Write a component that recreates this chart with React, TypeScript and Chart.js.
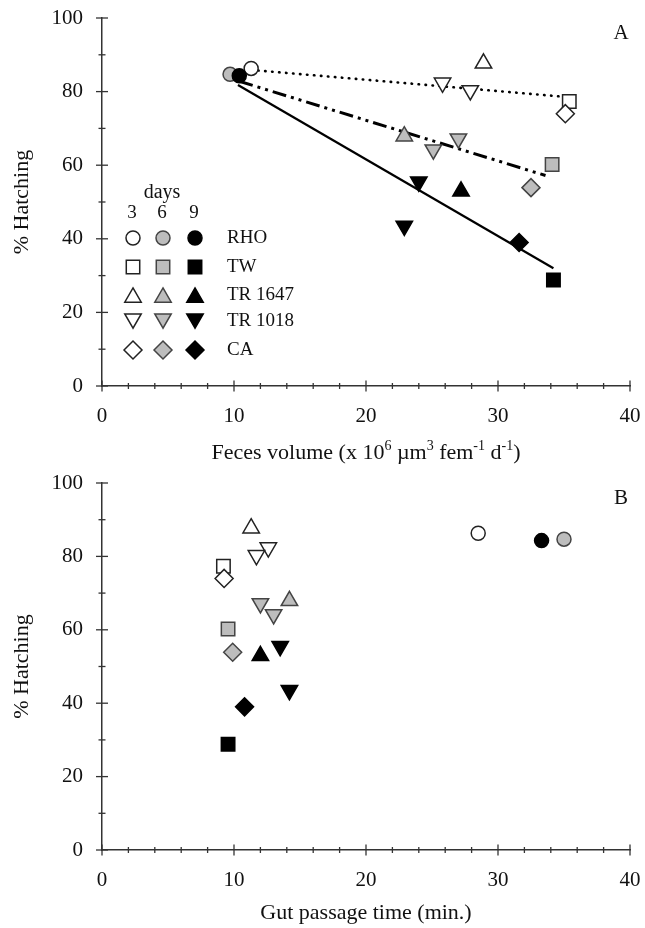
import React, { useEffect, useRef } from 'react';
import { Chart, registerables } from 'chart.js';
import { drawPoint } from 'chart.js/helpers';

Chart.register(...registerables);

// ---------------- data ----------------
const STRAINS = ['RHO', 'TW', 'TR 1647', 'TR 1018', 'TR 1018', 'CA'];
const LEGEND_STRAINS = ['RHO', 'TW', 'TR 1647', 'TR 1018', 'CA'];
const DAYS = ['3', '6', '9'];

// % hatching (same values in both panels)
const HATCH_DAY3 = [86.3, 77.3, 87.7, 82.4, 80.3, 74.0];
const HATCH_DAY6 = [84.7, 60.2, 67.9, 64.2, 67.2, 53.9];
const HATCH_DAY9 = [84.3, 28.8, 52.9, 55.5, 43.5, 39.0];

// panel A x: feces volume (x 10^6 µm^3 fem^-1 d^-1)
const FECES_DAY3 = [11.3, 35.4, 28.9, 25.8, 27.9, 35.1];
const FECES_DAY6 = [9.7, 34.1, 22.9, 25.1, 27.0, 32.5];
const FECES_DAY9 = [10.4, 34.2, 27.2, 24.0, 22.9, 31.6];

// panel B x: gut passage time (min.)
const GUT_DAY3 = [28.5, 9.2, 11.3, 12.6, 11.7, 9.25];
const GUT_DAY6 = [35.0, 9.55, 14.2, 13.0, 12.0, 9.9];
const GUT_DAY9 = [33.3, 9.55, 12.0, 13.5, 14.2, 10.8];

// regression lines in panel A (end points)
const FIT_DAY3_X = [11.3, 35.0];
const FIT_DAY3_Y = [85.9, 78.6];
const FIT_DAY6_X = [10.4, 33.6];
const FIT_DAY6_Y = [82.8, 57.2];
const FIT_DAY9_X = [10.3, 34.2];
const FIT_DAY9_Y = [81.8, 32.0];

const X_MIN = 0, X_MAX = 40, X_STEP = 10, X_MINOR = 2;
const Y_MIN = 0, Y_MAX = 100, Y_STEP = 20, Y_MINOR = 10;

const Y_TITLE = '% Hatching';
const X_TITLE_A: [string, boolean][] = [
  ['Feces volume (x 10', false], ['6', true], [' µm', false], ['3', true],
  [' fem', false], ['-1', true], [' d', false], ['-1', true], [')', false],
];
const X_TITLE_B: [string, boolean][] = [['Gut passage time (min.)', false]];
const DAYS_LABEL = 'days';

// ---------------- styles ----------------
const FONT = '"Liberation Serif", "Times New Roman", serif';
const TEXT = '#111111';
const AXIS = '#333333';
const SHAPES = ['circle', 'rect', 'triangle', 'triangle', 'triangle', 'rectRot'];
const ROTATIONS = [0, 0, 0, 180, 180, 0];
const RADII = [7, 9.5, 9.5, 9.5, 9.5, 9];
const LEG_SHAPES = ['circle', 'rect', 'triangle', 'triangle', 'rectRot'];
const LEG_ROT = [0, 0, 0, 180, 0];
const LEG_RADII = [7, 9.5, 9.5, 9.5, 9];
const FILLS = ['#ffffff', '#bdbdbd', '#000000'];
const EDGES = ['#222222', '#444444', '#000000'];
const EDGE_W = 1.5;

function drawRich(ctx: CanvasRenderingContext2D, segs: [string, boolean][], cx: number, cy: number, size: number) {
  const supSize = Math.round(size * 0.62);
  let total = 0;
  const parts = segs.map(([t, sup]) => {
    ctx.font = `${sup ? supSize : size}px ${FONT}`;
    const w = ctx.measureText(t).width;
    total += w;
    return { t, sup, w };
  });
  let x = cx - total / 2;
  const base = cy + size * 0.33;
  ctx.textAlign = 'left';
  ctx.textBaseline = 'alphabetic';
  for (const p of parts) {
    ctx.font = `${p.sup ? supSize : size}px ${FONT}`;
    ctx.fillText(p.t, x, p.sup ? base - size * 0.4 : base);
    x += p.w;
  }
}

const decorPlugin = {
  id: 'decor',
  afterDraw(chart: any, _args: any, opts: any) {
    const ctx: CanvasRenderingContext2D = chart.ctx;
    const xs = chart.scales.x;
    const ys = chart.scales.y;
    const area = chart.chartArea;
    ctx.save();
    ctx.strokeStyle = AXIS;
    ctx.lineWidth = 1.3;
    const yb = ys.getPixelForValue(Y_MIN);
    const xl = xs.getPixelForValue(X_MIN);
    for (let v = X_MIN; v <= X_MAX + 1e-9; v += X_MINOR) {
      const px = xs.getPixelForValue(v);
      const major = Math.abs(v % X_STEP) < 1e-9;
      const len = major ? 5.5 : 3;
      ctx.beginPath();
      ctx.moveTo(px, yb - len);
      ctx.lineTo(px, yb + len);
      ctx.stroke();
    }
    for (let v = Y_MIN; v <= Y_MAX + 1e-9; v += Y_MINOR) {
      const py = ys.getPixelForValue(v);
      const major = Math.abs(v % Y_STEP) < 1e-9;
      const len = major ? 6 : 3.5;
      ctx.beginPath();
      ctx.moveTo(xl - len, py);
      ctx.lineTo(xl + len, py);
      ctx.stroke();
    }
    ctx.fillStyle = TEXT;
    // panel letter
    ctx.font = `21px ${FONT}`;
    ctx.textAlign = 'center';
    ctx.textBaseline = 'middle';
    ctx.fillText(opts.letter, area.right - 9, area.top + 15);
    // x title
    drawRich(ctx, opts.xTitle, (area.left + area.right) / 2, area.bottom + opts.titleOffset, 22);
    // legend
    if (opts.legend) {
      const L = area.left;
      const T = area.top;
      const colX = [L + 31, L + 61, L + 93];
      const rowY = [T + 220, T + 249, T + 277, T + 303, T + 332];
      ctx.font = `20px ${FONT}`;
      ctx.textAlign = 'center';
      ctx.textBaseline = 'middle';
      ctx.fillText(DAYS_LABEL, L + 60, T + 175);
      ctx.font = `19px ${FONT}`;
      DAYS.forEach((d, i) => ctx.fillText(d, colX[i] - 1, T + 195));
      LEGEND_STRAINS.forEach((s, r) => {
        for (let d = 0; d < 3; d++) {
          ctx.fillStyle = FILLS[d];
          ctx.strokeStyle = EDGES[d];
          ctx.lineWidth = EDGE_W;
          const rot = LEG_ROT[r];
          const r0 = LEG_RADII[r];
          const dy = LEG_SHAPES[r] === 'triangle' ? (rot ? -r0 / 4 : r0 / 4) : 0;
          drawPoint(ctx, { pointStyle: LEG_SHAPES[r] as any, rotation: rot, radius: r0, borderWidth: EDGE_W }, colX[d], rowY[r] + dy);
        }
        ctx.fillStyle = TEXT;
        ctx.font = `19px ${FONT}`;
        ctx.textAlign = 'left';
        ctx.fillText(s, L + 125, rowY[r]);
      });
    }
    ctx.restore();
  },
};

function noPad(s: any) {
  s.paddingTop = 0;
  s.paddingBottom = 0;
  s.paddingLeft = 0;
  s.paddingRight = 0;
}

function buildConfig(panel: 'A' | 'B'): any {
  const xsets = panel === 'A' ? [FECES_DAY3, FECES_DAY6, FECES_DAY9] : [GUT_DAY3, GUT_DAY6, GUT_DAY9];
  const hsets = [HATCH_DAY3, HATCH_DAY6, HATCH_DAY9];
  const datasets: any[] = [];
  for (let d = 0; d < 3; d++) {
    datasets.push({
      label: `${DAYS[d]} days`,
      data: xsets[d].map((x, i) => ({ x, y: hsets[d][i], strain: STRAINS[i] })),
      pointStyle: SHAPES,
      pointRotation: ROTATIONS,
      pointRadius: RADII,
      pointHoverRadius: RADII,
      pointBackgroundColor: FILLS[d],
      pointBorderColor: EDGES[d],
      pointBorderWidth: EDGE_W,
      pointHoverBorderWidth: EDGE_W,
      showLine: false,
      order: 2 - d,
    });
  }
  if (panel === 'A') {
    const fits = [
      { xs: FIT_DAY3_X, ys: FIT_DAY3_Y, dash: [0.5, 6.5], width: 2.6, cap: 'round' },
      { xs: FIT_DAY6_X, ys: FIT_DAY6_Y, dash: [14, 5, 3, 5, 3, 5], width: 3, cap: 'butt' },
      { xs: FIT_DAY9_X, ys: FIT_DAY9_Y, dash: [], width: 2.2, cap: 'butt' },
    ];
    fits.forEach((f, i) => {
      datasets.push({
        label: `fit ${DAYS[i]}`,
        data: f.xs.map((x, k) => ({ x, y: f.ys[k] })),
        showLine: true,
        borderColor: '#000000',
        borderWidth: f.width,
        borderDash: f.dash,
        borderCapStyle: f.cap,
        pointRadius: 0,
        pointHoverRadius: 0,
        fill: false,
        tension: 0,
        order: 5 + i,
      });
    });
  }
  const canvasH = panel === 'A' ? 466 : 462;
  const top = panel === 'A' ? 18 : 17;
  const bottom = panel === 'A' ? 386 : 384;
  const tickFont = { family: FONT, size: 21 };
  return {
    type: 'scatter',
    data: { datasets },
    plugins: [decorPlugin],
    options: {
      responsive: false,
      animation: false,
      events: [],
      layout: { padding: { top, right: 15, left: 0, bottom: 0 } },
      plugins: {
        legend: { display: false },
        tooltip: { enabled: false },
        decor: {
          letter: panel,
          xTitle: panel === 'A' ? X_TITLE_A : X_TITLE_B,
          titleOffset: panel === 'A' ? 66 : 62,
          legend: panel === 'A',
        },
      },
      scales: {
        x: {
          type: 'linear',
          min: X_MIN,
          max: X_MAX,
          ticks: { stepSize: X_STEP, font: tickFont, color: TEXT, padding: 18, maxRotation: 0 },
          grid: { display: false, drawTicks: false },
          border: { display: true, color: AXIS, width: 1.5 },
          afterFit: (s: any) => { s.height = canvasH - bottom; noPad(s); },
        },
        y: {
          type: 'linear',
          min: Y_MIN,
          max: Y_MAX,
          ticks: { stepSize: Y_STEP, font: tickFont, color: TEXT, padding: 19 },
          grid: { display: false, drawTicks: false },
          border: { display: true, color: AXIS, width: 1.5 },
          title: { display: true, text: Y_TITLE, color: TEXT, font: { family: FONT, size: 22 }, padding: { top: 9, bottom: 0 } },
          afterFit: (s: any) => { s.width = 102; noPad(s); },
        },
      },
    },
  };
}

export default function App() {
  const refA = useRef<HTMLCanvasElement>(null);
  const refB = useRef<HTMLCanvasElement>(null);
  useEffect(() => {
    const a = new Chart(refA.current as HTMLCanvasElement, buildConfig('A'));
    const b = new Chart(refB.current as HTMLCanvasElement, buildConfig('B'));
    return () => {
      a.destroy();
      b.destroy();
    };
  }, []);
  return (
    <div style={{ position: 'absolute', left: 0, top: 0, width: 645, height: 928, background: '#ffffff' }}>
      <canvas ref={refA} width={645} height={466} style={{ position: 'absolute', left: 0, top: 0 }} />
      <canvas ref={refB} width={645} height={462} style={{ position: 'absolute', left: 0, top: 466 }} />
    </div>
  );
}
